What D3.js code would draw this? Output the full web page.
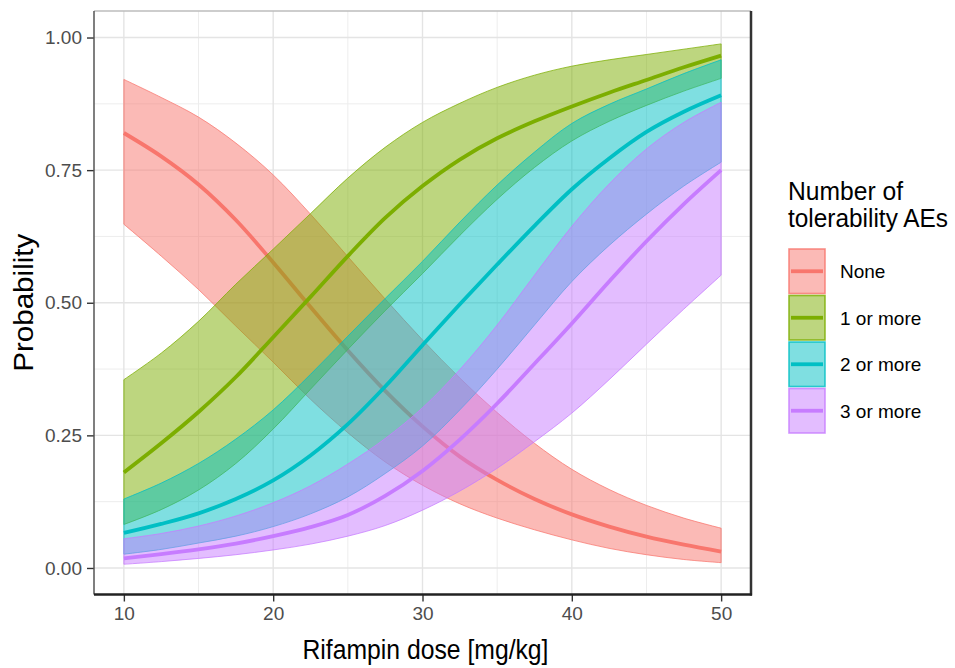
<!DOCTYPE html>
<html>
<head>
<meta charset="utf-8">
<script src="https://cdn.jsdelivr.net/npm/d3@7"></script>
<style>
  html, body { margin: 0; padding: 0; background: #ffffff; }
  svg { display: block; font-family: "Liberation Sans", Arial, sans-serif; }
</style>
</head>
<body>
<svg id="chart" width="955" height="668"></svg>
<script>
// ---------- data ----------
const dose = [10, 12.5, 15, 17.5, 20, 22.5, 25, 27.5, 30, 32.5, 35, 37.5, 40, 42.5, 45, 47.5, 50];

const noneMean = [0.820, 0.776, 0.723, 0.656, 0.576, 0.492, 0.410, 0.334, 0.267, 0.210, 0.166, 0.130, 0.101, 0.078, 0.059, 0.044, 0.031];
const noneLow  = [0.648, 0.588, 0.525, 0.456, 0.388, 0.318, 0.255, 0.200, 0.156, 0.121, 0.094, 0.072, 0.053, 0.037, 0.025, 0.016, 0.010];
const noneHigh = [0.921, 0.887, 0.850, 0.801, 0.741, 0.667, 0.587, 0.507, 0.430, 0.358, 0.293, 0.235, 0.186, 0.148, 0.118, 0.094, 0.075];

const oneMean = [0.180, 0.235, 0.294, 0.360, 0.435, 0.511, 0.588, 0.660, 0.720, 0.770, 0.810, 0.842, 0.870, 0.896, 0.920, 0.944, 0.966];
const oneLow  = [0.082, 0.110, 0.147, 0.197, 0.262, 0.337, 0.412, 0.485, 0.555, 0.627, 0.695, 0.755, 0.805, 0.842, 0.872, 0.899, 0.923];
const oneHigh = [0.355, 0.405, 0.465, 0.535, 0.601, 0.668, 0.735, 0.793, 0.840, 0.876, 0.906, 0.929, 0.946, 0.958, 0.968, 0.978, 0.988];

const twoMean = [0.066, 0.083, 0.103, 0.130, 0.165, 0.212, 0.271, 0.342, 0.420, 0.497, 0.572, 0.645, 0.714, 0.772, 0.822, 0.860, 0.891];
const twoLow  = [0.026, 0.035, 0.047, 0.060, 0.078, 0.102, 0.134, 0.178, 0.230, 0.298, 0.375, 0.458, 0.540, 0.608, 0.667, 0.720, 0.765];
const twoHigh = [0.130, 0.160, 0.197, 0.243, 0.298, 0.365, 0.437, 0.508, 0.578, 0.652, 0.722, 0.784, 0.838, 0.874, 0.903, 0.932, 0.958];

const threeMean = [0.018, 0.026, 0.035, 0.046, 0.060, 0.077, 0.100, 0.136, 0.183, 0.242, 0.310, 0.385, 0.461, 0.540, 0.616, 0.686, 0.750];
const threeLow  = [0.007, 0.012, 0.018, 0.025, 0.034, 0.045, 0.060, 0.080, 0.109, 0.145, 0.188, 0.238, 0.292, 0.355, 0.422, 0.488, 0.552];
const threeHigh = [0.055, 0.065, 0.079, 0.098, 0.123, 0.155, 0.196, 0.244, 0.302, 0.374, 0.458, 0.552, 0.644, 0.724, 0.790, 0.840, 0.878];

const groupLabels = ["None", "1 or more", "2 or more", "3 or more"];
const groupColors = ["#F8766D", "#7CAE00", "#00BFC4", "#C77CFF"];

const xTicks = [10, 20, 30, 40, 50];
const xMinor = [15, 25, 35, 45];
const yTicks = [0, 0.25, 0.5, 0.75, 1.0];
const yTickLabels = ["0.00", "0.25", "0.50", "0.75", "1.00"];
const yMinor = [0.125, 0.375, 0.625, 0.875];

const xTitle = "Rifampin dose [mg/kg]";
const yTitle = "Probability";
const legendTitle = ["Number of", "tolerability AEs"];

// ---------- build ----------
const groups = [
  { mean: noneMean, low: noneLow, high: noneHigh },
  { mean: oneMean, low: oneLow, high: oneHigh },
  { mean: twoMean, low: twoLow, high: twoHigh },
  { mean: threeMean, low: threeLow, high: threeHigh }
].map((g, i) => ({
  label: groupLabels[i],
  color: groupColors[i],
  rows: dose.map((d, j) => ({ x: d, m: g.mean[j], lo: g.low[j], hi: g.high[j] }))
}));

const svg = d3.select("#chart");
const P = { left: 94, right: 751, top: 11, bottom: 594.5 };

const x = d3.scaleLinear().domain([8, 52]).range([P.left, P.right]);
const y = d3.scaleLinear().domain([-0.05, 1.05]).range([P.bottom, P.top]);

// panel background
svg.append("rect").attr("x", P.left).attr("y", P.top)
  .attr("width", P.right - P.left).attr("height", P.bottom - P.top).attr("fill", "#fff");

// grid
const grid = svg.append("g");
grid.selectAll(".xmin").data(xMinor).join("line")
  .attr("x1", d => x(d)).attr("x2", d => x(d)).attr("y1", P.top).attr("y2", P.bottom)
  .attr("stroke", "#ededed").attr("stroke-width", 1);
grid.selectAll(".ymin").data(yMinor).join("line")
  .attr("y1", d => y(d)).attr("y2", d => y(d)).attr("x1", P.left).attr("x2", P.right)
  .attr("stroke", "#ededed").attr("stroke-width", 1);
grid.selectAll(".xmaj").data(xTicks).join("line")
  .attr("x1", d => x(d)).attr("x2", d => x(d)).attr("y1", P.top).attr("y2", P.bottom)
  .attr("stroke", "#e4e4e4").attr("stroke-width", 1.4);
grid.selectAll(".ymaj").data(yTicks).join("line")
  .attr("y1", d => y(d)).attr("y2", d => y(d)).attr("x1", P.left).attr("x2", P.right)
  .attr("stroke", "#e4e4e4").attr("stroke-width", 1.4);

// clip
svg.append("clipPath").attr("id", "clip").append("rect")
  .attr("x", P.left).attr("y", P.top).attr("width", P.right - P.left).attr("height", P.bottom - P.top);

const curve = d3.curveCatmullRom.alpha(0.5);
const area = d3.area().x(d => x(d.x)).y0(d => y(d.lo)).y1(d => y(d.hi)).curve(curve);
const lineM = d3.line().x(d => x(d.x)).y(d => y(d.m)).curve(curve);

const plot = svg.append("g").attr("clip-path", "url(#clip)");
groups.forEach(g => {
  const gg = plot.append("g");
  gg.append("path").attr("d", area(g.rows)).attr("fill", g.color).attr("fill-opacity", 0.5)
    .attr("stroke", g.color).attr("stroke-opacity", 0.75).attr("stroke-width", 1);
  gg.append("path").attr("d", lineM(g.rows)).attr("fill", "none")
    .attr("stroke", g.color).attr("stroke-width", 3.8);
});

// axes
const xAxis = d3.axisBottom(x).tickValues(xTicks).tickSize(7).tickPadding(5).tickFormat(d3.format("d"));
const yAxis = d3.axisLeft(y).tickValues(yTicks).tickSize(7).tickPadding(5).tickFormat((d, i) => yTickLabels[i]);

const gx = svg.append("g").attr("transform", `translate(0,${P.bottom})`).call(xAxis);
const gy = svg.append("g").attr("transform", `translate(${P.left},0)`).call(yAxis);
[gx, gy].forEach(g => {
  g.select(".domain").remove();
  g.selectAll(".tick line").attr("stroke", "#333").attr("stroke-width", 1.4);
  g.selectAll(".tick text").attr("fill", "#4d4d4d").style("font-size", "19px")
    .style("font-family", "'Liberation Sans', Arial, sans-serif");
});

// panel border
const border = svg.append("g").attr("fill", "none");
border.append("line").attr("x1", P.left).attr("x2", P.right).attr("y1", P.top).attr("y2", P.top)
  .attr("stroke", "#bdbdbd").attr("stroke-width", 1.5);
border.append("line").attr("x1", P.left).attr("x2", P.left).attr("y1", P.top).attr("y2", P.bottom)
  .attr("stroke", "#555").attr("stroke-width", 1.5);
border.append("line").attr("x1", P.right).attr("x2", P.right).attr("y1", P.top).attr("y2", P.bottom + 1)
  .attr("stroke", "#333").attr("stroke-width", 2.5);
border.append("line").attr("x1", P.left).attr("x2", P.right + 1).attr("y1", P.bottom).attr("y2", P.bottom)
  .attr("stroke", "#222").attr("stroke-width", 2.5);

// axis titles
svg.append("text").attr("x", (P.left + P.right) / 2 + 3).attr("y", 659)
  .attr("text-anchor", "middle").attr("fill", "#000").style("font-size", "27px")
  .attr("textLength", 246).attr("lengthAdjust", "spacingAndGlyphs").text(xTitle);
svg.append("text").attr("transform", `translate(33,${(P.top + P.bottom) / 2}) rotate(-90)`)
  .attr("text-anchor", "middle").attr("fill", "#000").style("font-size", "27px")
  .attr("textLength", 138).attr("lengthAdjust", "spacingAndGlyphs").text(yTitle);

// legend
const lg = svg.append("g");
const LX = 788, LY = 248, keyW = 38, keyH = 46.5;
const titleLens = [115, 160];
legendTitle.forEach((t, i) => {
  lg.append("text").attr("x", LX).attr("y", 200 + i * 26.7).attr("fill", "#000")
    .style("font-size", "25px").attr("textLength", titleLens[i]).attr("lengthAdjust", "spacingAndGlyphs").text(t);
});
groups.forEach((g, i) => {
  const ky = LY + i * keyH;
  lg.append("rect").attr("x", LX + 1).attr("y", ky + 1).attr("width", keyW - 2).attr("height", keyH - 2)
    .attr("fill", g.color).attr("fill-opacity", 0.5).attr("stroke", g.color).attr("stroke-opacity", 0.8).attr("stroke-width", 1.6);
  lg.append("line").attr("x1", LX + 3).attr("x2", LX + keyW - 3).attr("y1", ky + keyH / 2).attr("y2", ky + keyH / 2)
    .attr("stroke", g.color).attr("stroke-width", 3.8);
  lg.append("text").attr("x", LX + 52).attr("y", ky + keyH / 2 + 7).attr("fill", "#000")
    .style("font-size", "19px").text(g.label);
});
</script>
</body>
</html>
